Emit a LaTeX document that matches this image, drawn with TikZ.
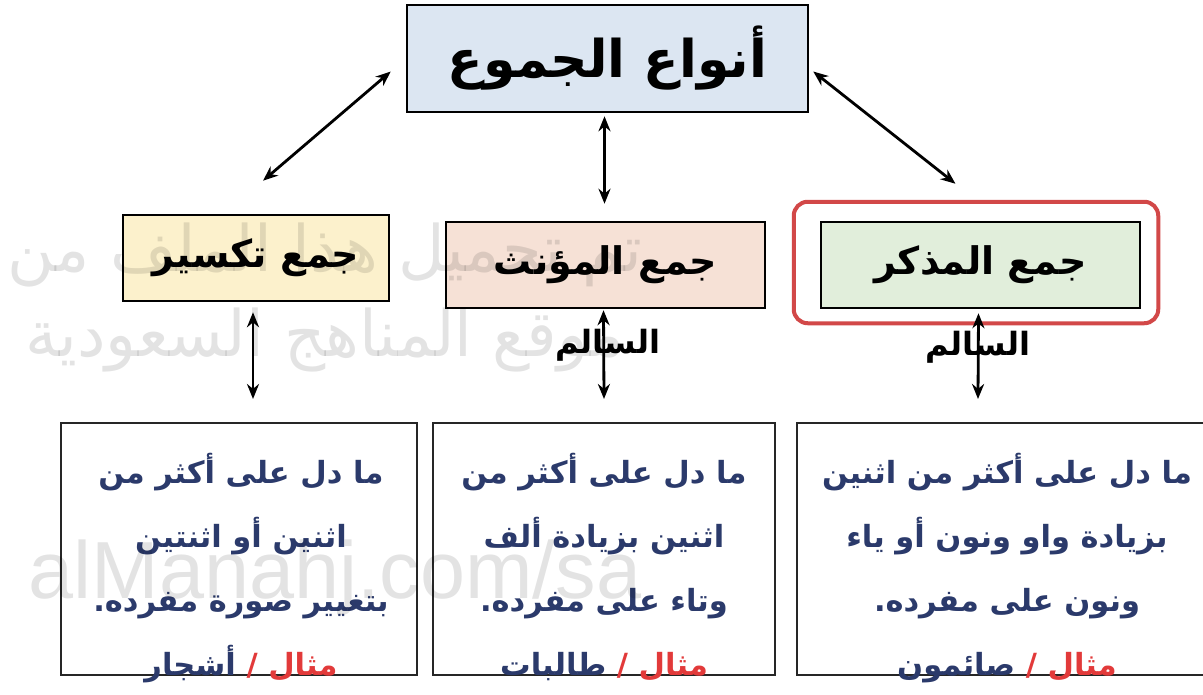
\documentclass[tikz,border=0pt]{standalone}
\usepackage{fontspec}
\newfontfamily\arabicfont[Script=Arabic]{DejaVu Sans}
\newfontfamily\latinfont{Liberation Sans}
\TeXXeTstate=1
\usetikzlibrary{arrows.meta,calc}
\definecolor{topblue}{HTML}{DCE6F2}
\definecolor{tksyellow}{HTML}{FCF1CC}
\definecolor{mwnpeach}{HTML}{F6E1D6}
\definecolor{mdkgreen}{HTML}{E1EEDB}
\definecolor{framered}{HTML}{D24848}
\definecolor{textnavy}{HTML}{2B3A6B}
\definecolor{exred}{HTML}{E23A3A}

\begin{document}
\begin{tikzpicture}[x=1pt,y=-1pt,
	typebox/.style={draw=black, line width=2.5pt, inner sep=0pt, font=\arabicfont\bfseries\fontsize{38}{40}\selectfont, minimum height=86pt},
	salim/.style={font=\arabicfont\bfseries\fontsize{32}{36}\selectfont, inner sep=0pt},
	descbox/.style={draw=black!85, line width=2pt, minimum height=252pt},
	desctext/.style={align=center, text=textnavy, inner sep=0pt, anchor=north, font=\arabicfont\bfseries\fontsize{30.5}{64}\selectfont},
	dbl/.style={{Stealth[length=15pt,width=12pt]}-{Stealth[length=15pt,width=12pt]}, line width=2.8pt},
	watermark/.style={text=black, text opacity=0.11, inner sep=0pt, font=\arabicfont\fontsize{64}{64}\selectfont}]

	\useasboundingbox (0,0) rectangle (1203,694);
	\fill[white] (0,0) rectangle (1203,694);

	\node[typebox, fill=topblue, minimum width=401pt, minimum height=107pt, font=\arabicfont\bfseries\fontsize{52}{56}\selectfont] (top) at (607.5,58.5) {\beginR أنواع الجموع\endR};

	\node[typebox, fill=tksyellow, minimum width=266pt] (tks) at (256,258) {\beginR جمع تكسير\endR};
	\node[typebox, fill=mwnpeach, minimum width=319pt] (mwn) at (605.5,265) {\beginR جمع المؤنث\endR};
	\node[typebox, fill=mdkgreen, minimum width=319pt] (mdk) at (980.5,265) {\beginR جمع المذكر\endR};
	\draw[framered, line width=4pt, rounded corners=14pt] ($(mdk.north west)+(-26,-19)$) rectangle ($(mdk.south east)+(17,14)$);

	\node[salim] (smwn) at (608,345) {\beginR السالم\endR};
	\node[salim] (smdk) at (978,347) {\beginR السالم\endR};

	\node[descbox, minimum width=356pt] (dtks) at (239,549) {};
	\node[descbox, minimum width=342pt] (dmwn) at (604,549) {};
	\node[descbox, minimum width=408pt] (dmdk) at (1001,549) {};

	\node[desctext] (ttks) at ($(dtks.north)+(2,31)$) {\beginR ما دل على أكثر من\endR\\ \beginR اثنين أو اثنتين\endR\\ .\beginR بتغيير صورة مفرده\endR\\ أشجار {\color{exred}/ مثال}};
	\node[desctext] (tmwn) at ($(dmwn.north)+(0,31)$) {\beginR ما دل على أكثر من\endR\\ \beginR اثنين بزيادة ألف\endR\\ .\beginR وتاء على مفرده\endR\\ طالبات {\color{exred}/ مثال}};
	\node[desctext] (tmdk) at ($(dmdk.north)+(6,31)$) {\beginR ما دل على أكثر من اثنين\endR\\ \beginR بزيادة واو ونون أو ياء\endR\\ .\beginR ونون على مفرده\endR\\ صائمون {\color{exred}/ مثال}};

	\draw[dbl] ($(top.west)+(-15,13)$) -- ($(tks.north)+(7,-33)$);
	\draw[dbl] ($(top.south)+(-3,3)$) -- ($(mwn.north)+(-1,-17)$);
	\draw[dbl] ($(top.east)+(4,13)$) -- ($(mdk.north)+(-25,-37)$);
	\draw[dbl] ($(tks.south)+(-3,10)$) -- ($(dtks.north)+(14,-23)$);
	\draw[dbl] ($(mwn.south)+(-2,1)$) -- ($(dmwn.north)+(0,-23)$);
	\draw[dbl] ($(mdk.south)+(-2,4)$) -- ($(dmdk.north)+(-23,-23)$);

	\node[watermark] (wmone) at (325,255) {\beginR تم تحميل هذا الملف من\endR};
	\node[watermark] (wmtwo) at (325,340) {\beginR موقع المناهج السعودية\endR};
	\node[watermark, font=\latinfont\fontsize{81}{81}\selectfont] (wmthree) at (335,578) {alManahj.com/sa};
\end{tikzpicture}
\end{document}
